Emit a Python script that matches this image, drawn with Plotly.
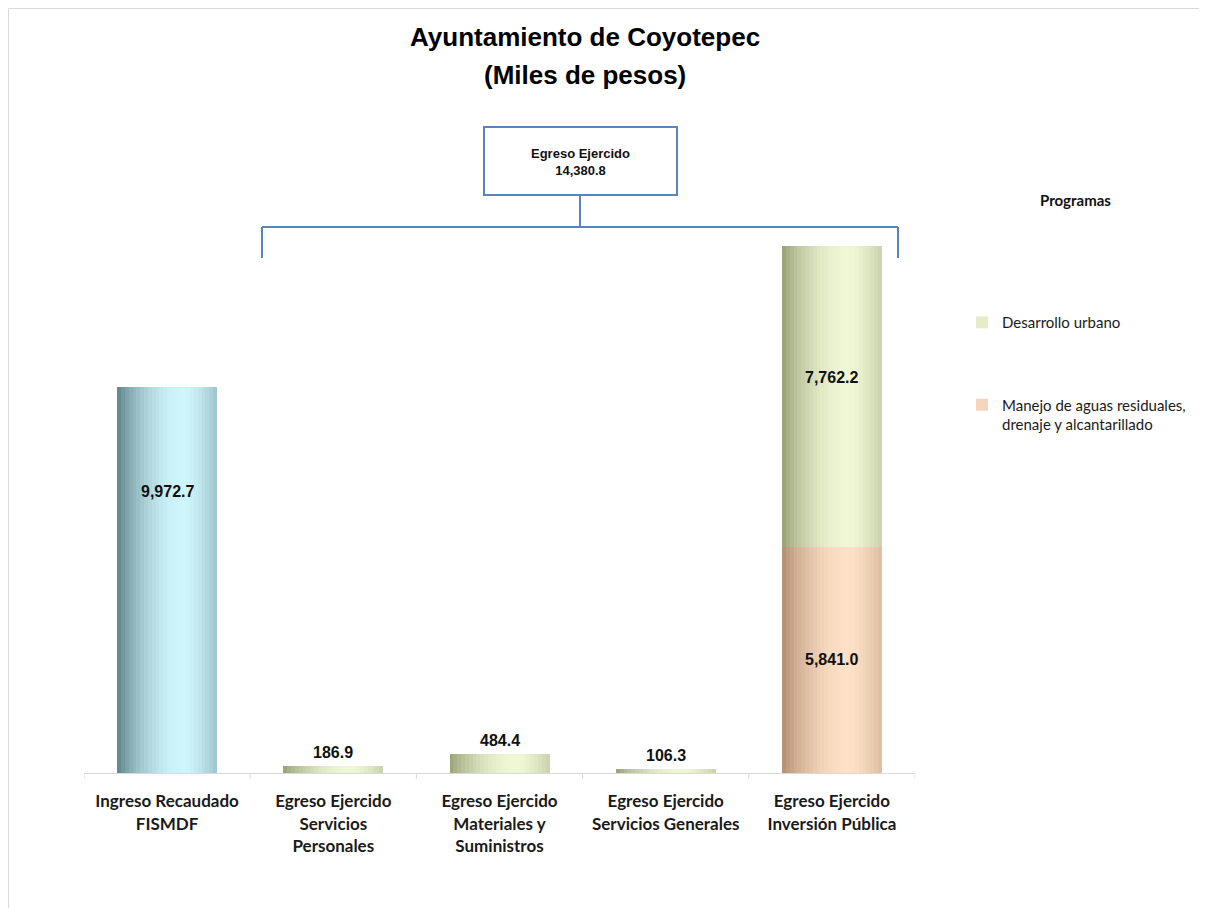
import math
import plotly.graph_objects as go

# ---------------- data ----------------
categories = [
    "Ingreso Recaudado<br>FISMDF",
    "Egreso Ejercido<br>Servicios<br>Personales",
    "Egreso Ejercido<br>Materiales y<br>Suministros",
    "Egreso Ejercido<br>Servicios Generales",
    "Egreso Ejercido<br>Inversión Pública",
]
ingreso_fismdf = [9972.7, None, None, None, None]
desarrollo_urbano = [None, 186.9, 484.4, 106.3, 7762.2]
manejo_aguas = [None, None, None, None, 5841.0]
egreso_total = 14380.8

title_lines = ["Ayuntamiento de Coyotepec", "(Miles de pesos)"]
legend_title = "Programas"
name_desarrollo = "Desarrollo urbano"
name_manejo = "Manejo de aguas residuales,<br>drenaje y alcantarillado"

# ---------------- layout geometry (page pixels; body margin = 8) ----------------
OFF = 8
W, H = 1207 - OFF, 908 - OFF
PL, PR = 84, 915      # plot area left/right (page px)
PT, PB = 135, 773     # plot area top/bottom (page px)
PX_PER_UNIT = 386 / 9972.7
YMAX = (PB - PT) / PX_PER_UNIT


def px_x(p):
    return (p - PL) / (PR - PL)


def px_y(p):
    return (PB - p) / (PB - PT)


NUM = "Liberation Sans Narrow, Liberation Sans, Arial Narrow, Arial, sans-serif"
CAL = "Lato, Carlito, Calibri, Open Sans, sans-serif"

# ---------------- cylinder shading ----------------
def shade(t):
    if t < 0.68:
        return math.sin(math.pi / 2 * t / 0.68) ** 0.8
    return 1 - 0.42 * ((t - 0.68) / 0.32) ** 1.4


def mix(dark, light, s):
    return "rgb(%d,%d,%d)" % tuple(round(d + (l - d) * s) for d, l in zip(dark, light))


BLUE = ((92, 128, 136), (208, 246, 253))
GREEN = ((150, 158, 116), (239, 247, 213))
ORANGE = ((176, 140, 112), (253, 224, 198))

N = 26
BW = 0.6
sw = BW / N

fig = go.Figure()

desarrollo_base = [m if m is not None else 0 for m in manejo_aguas]

series = [
    ("Ingreso", ingreso_fismdf, [0] * 5, BLUE, False, "g0"),
    (name_desarrollo, desarrollo_urbano, desarrollo_base, GREEN, True, "g1"),
    (name_manejo, manejo_aguas, [0] * 5, ORANGE, True, "g2"),
]

for name, vals, base, (dark, light), legend, grp in series:
    for i in range(N):
        t = (i + 0.5) / N
        col = mix(dark, light, shade(t))
        fig.add_trace(go.Bar(
            x=list(range(len(categories))),
            y=vals,
            base=base,
            offset=-BW / 2 + i * sw,
            width=sw * 1.08,
            marker=dict(color=col, line=dict(width=0)),
            name=name,
            legendgroup=grp,
            showlegend=bool(legend and i == int(N * 0.45)),
            hoverinfo="skip",
        ))

# ---------------- value labels ----------------
annotations = []
label_specs = []
for idx, v in enumerate(ingreso_fismdf):
    if v is not None:
        label_specs.append((idx, v, 0, 0.73))
for idx, v in enumerate(manejo_aguas):
    if v is not None:
        label_specs.append((idx, v, 0, 0.5))
for idx, v in enumerate(desarrollo_urbano):
    if v is not None:
        label_specs.append((idx, v, desarrollo_base[idx], 0.565 if v > 1000 else None))

for idx, v, b, frac in label_specs:
    txt = "<b>{:,.1f}</b>".format(v)
    if frac is not None:
        annotations.append(dict(x=idx, y=b + v * frac, xref="x", yref="y", text=txt,
                                showarrow=False, xanchor="center", yanchor="middle",
                                font=dict(family=NUM, size=16, color="#111111")))
    else:
        annotations.append(dict(x=idx, y=b + v, xref="x", yref="y", text=txt,
                                showarrow=False, xanchor="center", yanchor="bottom", yshift=3,
                                font=dict(family=NUM, size=16, color="#111111")))

# title (two lines)
for line, ypx in zip(title_lines, (37, 75)):
    annotations.append(dict(x=px_x(585), y=px_y(ypx), xref="paper", yref="paper",
                            text="<b>%s</b>" % line, showarrow=False,
                            xanchor="center", yanchor="middle",
                            font=dict(family="Liberation Sans, Arial, sans-serif", size=26,
                                      color="#000000")))
# box text
annotations.append(dict(x=px_x(580), y=px_y(162), xref="paper", yref="paper",
                        text="<b>Egreso Ejercido<br>{:,.1f}</b>".format(egreso_total),
                        showarrow=False, xanchor="center", yanchor="middle",
                        font=dict(family=NUM, size=13, color="#111111")))
# legend heading
annotations.append(dict(x=px_x(1075), y=px_y(200), xref="paper", yref="paper",
                        text="<b>%s</b>" % legend_title, showarrow=False,
                        xanchor="center", yanchor="middle",
                        font=dict(family=CAL, size=15, color="#111111")))

LINE = dict(color="#5b84bd", width=2)
shapes = [
    dict(type="rect", xref="paper", yref="paper", x0=px_x(484), x1=px_x(677),
         y0=px_y(195), y1=px_y(127), line=LINE, fillcolor="white", layer="below"),
    dict(type="line", xref="paper", yref="paper", x0=px_x(580), x1=px_x(580),
         y0=px_y(195), y1=px_y(227), line=LINE),
    dict(type="line", xref="paper", yref="paper", x0=px_x(262), x1=px_x(898),
         y0=px_y(227), y1=px_y(227), line=LINE),
    dict(type="line", xref="paper", yref="paper", x0=px_x(262), x1=px_x(262),
         y0=px_y(227), y1=px_y(258), line=LINE),
    dict(type="line", xref="paper", yref="paper", x0=px_x(898), x1=px_x(898),
         y0=px_y(227), y1=px_y(258), line=LINE),
    dict(type="rect", xref="paper", yref="paper", x0=px_x(8.5), x1=px_x(1230),
         y0=px_y(930), y1=px_y(8.5), line=dict(color="#d9d9d9", width=1), layer="below"),
]

# category boundary tick marks
for k in range(len(categories) + 1):
    shapes.append(dict(type="line", xref="x", yref="paper", x0=k - 0.5, x1=k - 0.5,
                       y0=0, y1=-6 / (PB - PT), line=dict(color="#d9d9d9", width=1)))

fig.update_layout(
    width=W, height=H,
    margin=dict(l=PL - OFF, r=1207 - PR, t=PT - OFF, b=908 - PB),
    paper_bgcolor="white", plot_bgcolor="white",
    barmode="overlay", bargap=0,
    xaxis=dict(
        type="linear", range=[-0.5, len(categories) - 0.5],
        tickmode="array", tickvals=list(range(len(categories))),
        ticktext=["<b>%s</b>" % c.replace("<br>", "</b><br><b>") for c in categories],
        showline=True, linecolor="#d9d9d9", linewidth=1,
        ticks="", showgrid=False, zeroline=False, ticklabelstandoff=13,
        tickfont=dict(family=CAL, size=17, color="#1a1a1a"),
    ),
    yaxis=dict(range=[0, YMAX], visible=False, showgrid=False, zeroline=False),
    legend=dict(x=px_x(962), y=px_y(306), xanchor="left", yanchor="top",
                traceorder="grouped", tracegroupgap=60, valign="top",
                font=dict(family=CAL, size=15, color="#1a1a1a"),
                bgcolor="rgba(0,0,0,0)"),
    annotations=annotations,
    shapes=shapes,
    showlegend=True,
)

fig.write_html("out.html")
